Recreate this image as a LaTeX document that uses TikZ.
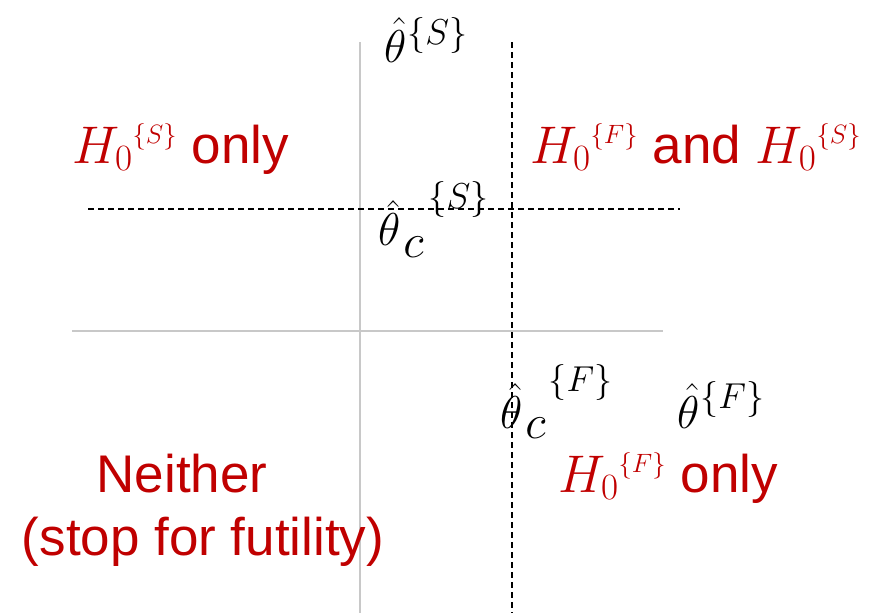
\documentclass[tikz,border=0pt]{standalone}
\usepackage{fix-cm}
\usepackage{fontspec}
\setmainfont{Liberation Sans}
\definecolor{labred}{RGB}{192,0,0}
\definecolor{axisgray}{RGB}{200,200,200}
\newcommand\supfont{\fontsize{36}{40}\selectfont}
\newcommand\subfont{\fontsize{48}{50}\selectfont}
\begin{document}
\begin{tikzpicture}[x=1pt,y=-1pt,
  axisline/.style={draw=axisgray,line width=1.4pt},
  cutline/.style={draw=black,line width=1.1pt,dash pattern=on 6pt off 4pt},
  region/.style={text=labred,inner sep=0pt,anchor=base west,font=\fontsize{53}{60}\selectfont},
  estlabel/.style={text=black,inner sep=0pt,anchor=base west,font=\fontsize{46}{50}\selectfont}]
\useasboundingbox (0,0) rectangle (879,613);
% axes
\coordinate (vtop) at (360,42);
\coordinate (vbot) at (360,613);
\coordinate (hleft) at (72,331);
\coordinate (hright) at (663,331);
\draw[axisline] (vtop) -- (vbot);
\draw[axisline] (hleft) -- (hright);
% cut-off lines
\coordinate (dvtop) at (512,42);
\coordinate (dvbot) at (512,613);
\coordinate (dhleft) at (88,209);
\coordinate (dhright) at (680,209);
\draw[cutline] (dvtop) -- (dvbot);
\draw[cutline] (dhleft) -- (dhright);
% estimator labels
\node[estlabel] (thS) at (384,62) {$\hat{\theta}$\kern1pt\raisebox{18pt}{\supfont$\{S\}$}};
\node[estlabel] (thcS) at (378,245) {$\hat{\theta}$\kern3pt\raisebox{-12pt}{\subfont$c$}\kern5pt\raisebox{37pt}{\supfont$\{S\}$}};
\node[estlabel] (thcF) at (500,428) {$\hat{\theta}$\kern3pt\raisebox{-10pt}{\subfont$c$}\kern3pt\raisebox{37pt}{\supfont$\{F\}$}};
\node[estlabel] (thF) at (677,428) {$\hat{\theta}$\kern1pt\raisebox{20pt}{\supfont$\{F\}$}};
% region labels
\node[region] (rS) at (72,163) {$H_0{}^{\scriptscriptstyle\{S\}}$ only};
\node[region] (rFS) at (530,163) {$H_0{}^{\scriptscriptstyle\{F\}}$ and $H_0{}^{\scriptscriptstyle\{S\}}$};
\node[region] (rF) at (558,492) {$H_0{}^{\scriptscriptstyle\{F\}}$ only};
\node[region,anchor=base] (neither) at (182,492) {Neither};
\node[region,anchor=base] (futility) at (203,555) {(stop for futility)};
\end{tikzpicture}
\end{document}
